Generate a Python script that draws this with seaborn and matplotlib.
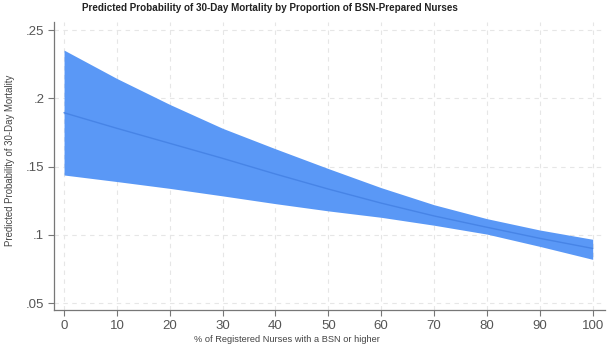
import numpy as np
import pandas as pd
import matplotlib
matplotlib.use("Agg")
import matplotlib.pyplot as plt
import seaborn as sns

# values
pct_bsn = [0, 10, 20, 30, 40, 50, 60, 70, 80, 90, 100]
pred_prob = [0.1894, 0.178, 0.167, 0.156, 0.1445, 0.1335, 0.1232, 0.1138, 0.1055, 0.0974, 0.090]
ci_upper = [0.2353, 0.2145, 0.1955, 0.178, 0.163, 0.1485, 0.1345, 0.122, 0.1118, 0.1035, 0.0967]
ci_lower = [0.1438, 0.139, 0.134, 0.1285, 0.1228, 0.1175, 0.1128, 0.107, 0.1005, 0.0915, 0.082]

y_ticks = [0.05, 0.1, 0.15, 0.2, 0.25]
y_ticklabels = [".05", ".1", ".15", ".2", ".25"]
x_ticks = list(range(0, 101, 10))

df = pd.DataFrame({"pct": pct_bsn, "pred": pred_prob, "lo": ci_lower, "hi": ci_upper})

sns.set_theme(style="white")
plt.rcParams["font.family"] = ["Liberation Sans", "DejaVu Sans"]

fig = plt.figure(figsize=(6.08, 3.54), dpi=100)
ax = fig.add_axes([0.0888, 0.1243, 0.906, 0.8136])

band_col = "#5a98f6"
ax.fill_between(df["pct"], df["lo"], df["hi"], color=band_col, linewidth=0, zorder=2)
sns.lineplot(data=df, x="pct", y="pred", ax=ax, color="#4784e6", linewidth=1.0, zorder=3)

ax.set_xlim(-1.9, 102.3)
ax.set_ylim(0.0449, 0.2559)
ax.set_xticks(x_ticks)
ax.set_yticks(y_ticks)
ax.set_yticklabels(y_ticklabels)

ax.grid(True, linestyle=(0, (4, 4)), color="#e6e6e6", linewidth=0.8, zorder=0)
for s in ["top", "right"]:
    ax.spines[s].set_visible(False)
for s in ["left", "bottom"]:
    ax.spines[s].set_color("#777777")
    ax.spines[s].set_linewidth(0.9)
ax.tick_params(axis="both", direction="out", length=4, width=0.8, color="#777777",
               labelsize=9.5, labelcolor="#555555", pad=3, bottom=True, left=True)

ax.set_xlabel("")
ax.set_ylabel("")
fig.text(0.444, 0.977, "Predicted Probability of 30-Day Mortality by Proportion of BSN-Prepared Nurses",
         ha="center", va="center", fontsize=7.1, fontweight="bold", color="#222222")
fig.text(0.472, 0.040, "% of Registered Nurses with a BSN or higher",
         ha="center", va="center", fontsize=6.7, color="#444444")
fig.text(0.016, 0.548, "Predicted Probability of 30-Day Mortality",
         ha="center", va="center", rotation=90, fontsize=6.9, color="#444444")

fig.savefig("out.png", dpi=100)
